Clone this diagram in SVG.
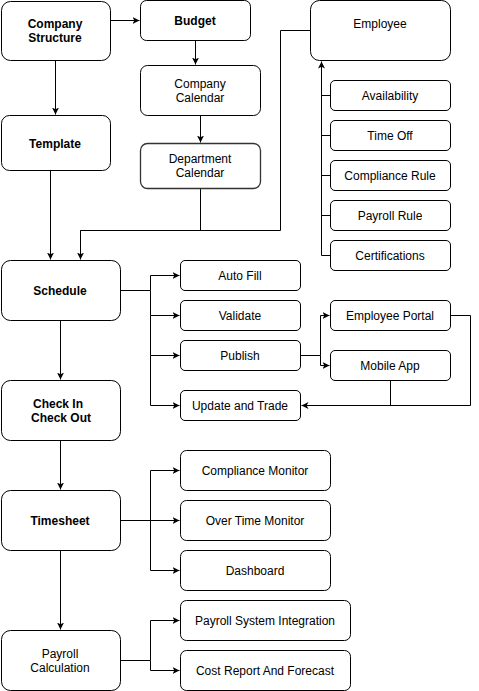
<svg xmlns="http://www.w3.org/2000/svg" width="479" height="691" viewBox="0 0 479 691">
<style>
.box{fill:#fff;stroke:#000;stroke-width:1}
.t{font-family:"Liberation Sans",Arial,sans-serif;font-size:12px;fill:#000;text-anchor:middle}
.b{font-weight:bold}
.c{fill:none;stroke:#000;stroke-width:1}
.a{marker-end:url(#arr)}
</style>
<defs>
<marker id="arr" markerWidth="8" markerHeight="8" refX="7" refY="4" orient="auto" markerUnits="userSpaceOnUse">
<path d="M0,0.5 L7,4 L0,7.5 L1.8,4 Z" fill="#000"/>
</marker>
</defs>
<rect width="479" height="691" fill="#fff"/>
<g id="connectors" transform="translate(0.5,0.5)">
<path class="c a" d="M110,20 H139"/>
<path class="c a" d="M55,60 V114"/>
<path class="c a" d="M195,40 V64"/>
<path class="c a" d="M200,115 V142"/>
<path class="c" d="M200,188 V230 H80"/>
<path class="c a" d="M310,30 H280 V230 H80 V259"/>
<path class="c a" d="M50,170 V259"/>
<path class="c a" d="M330,255 H321 V61"/>
<path class="c" d="M330,95 H321"/>
<path class="c" d="M330,135 H321"/>
<path class="c" d="M330,175 H321"/>
<path class="c" d="M330,215 H321"/>
<path class="c a" d="M120,290 H150 V275 H179"/>
<path class="c a" d="M150,290 V315 H179"/>
<path class="c a" d="M150,315 V355 H179"/>
<path class="c a" d="M150,355 V405 H179"/>
<path class="c a" d="M60,320 V379"/>
<path class="c a" d="M300,355 H320 V315 H329"/>
<path class="c a" d="M320,355 V365 H329"/>
<path class="c a" d="M450,315 H470 V405 H301"/>
<path class="c" d="M390,380 V405"/>
<path class="c a" d="M60,440 V489"/>
<path class="c a" d="M120,520 H150 V470 H179"/>
<path class="c a" d="M150,520 H179"/>
<path class="c a" d="M150,520 V570 H179"/>
<path class="c a" d="M60,550 V629"/>
<path class="c a" d="M120,660 H150 V620 H179"/>
<path class="c a" d="M150,660 V670 H179"/>
</g>
<g id="company-structure"><rect class="box" x="1.5" y="1.5" width="109" height="59" rx="9"/><text class="t b" x="55" y="28">Company</text><text class="t b" x="55" y="42">Structure</text></g>
<g id="budget"><rect class="box" x="140.5" y="0.5" width="110" height="40" rx="6"/><text class="t b" x="195" y="25">Budget</text></g>
<g id="company-calendar"><rect class="box" x="140.5" y="65.5" width="120" height="50" rx="7"/><text class="t" x="200" y="88">Company</text><text class="t" x="200" y="102">Calendar</text></g>
<g id="department-calendar"><rect class="box" x="140.5" y="143.5" width="120" height="45" rx="7" style="stroke:#333;stroke-width:1.3"/><text class="t" x="200" y="163">Department</text><text class="t" x="200" y="177">Calendar</text></g>
<g id="template"><rect class="box" x="1.5" y="115.5" width="109" height="55" rx="8"/><text class="t b" x="55" y="148">Template</text></g>
<g id="employee"><rect class="box" x="310.5" y="0.5" width="140" height="60" rx="9"/><text class="t" x="380" y="28">Employee</text></g>
<g id="availability"><rect class="box" x="330.5" y="80.5" width="120" height="30" rx="4.5"/><text class="t" x="390" y="100">Availability</text></g>
<g id="time-off"><rect class="box" x="330.5" y="120.5" width="120" height="30" rx="4.5"/><text class="t" x="390" y="140">Time Off</text></g>
<g id="compliance-rule"><rect class="box" x="330.5" y="160.5" width="120" height="30" rx="4.5"/><text class="t" x="390" y="180">Compliance Rule</text></g>
<g id="payroll-rule"><rect class="box" x="330.5" y="200.5" width="120" height="30" rx="4.5"/><text class="t" x="390" y="220">Payroll Rule</text></g>
<g id="certifications"><rect class="box" x="330.5" y="240.5" width="120" height="30" rx="4.5"/><text class="t" x="390" y="260">Certifications</text></g>
<g id="schedule"><rect class="box" x="1.5" y="260.5" width="119" height="60" rx="9"/><text class="t b" x="60" y="295">Schedule</text></g>
<g id="auto-fill"><rect class="box" x="180.5" y="260.5" width="120" height="30" rx="4.5"/><text class="t" x="240" y="280">Auto Fill</text></g>
<g id="validate"><rect class="box" x="180.5" y="300.5" width="120" height="30" rx="4.5"/><text class="t" x="240" y="320">Validate</text></g>
<g id="publish"><rect class="box" x="180.5" y="340.5" width="120" height="30" rx="4.5"/><text class="t" x="240" y="360">Publish</text></g>
<g id="update-and-trade"><rect class="box" x="180.5" y="390.5" width="120" height="30" rx="4.5"/><text class="t" x="240" y="410">Update and Trade</text></g>
<g id="employee-portal"><rect class="box" x="330.5" y="300.5" width="120" height="30" rx="4.5"/><text class="t" x="390" y="320">Employee Portal</text></g>
<g id="mobile-app"><rect class="box" x="330.5" y="350.5" width="120" height="30" rx="4.5"/><text class="t" x="390" y="370">Mobile App</text></g>
<g id="check-in-check-out"><rect class="box" x="1.5" y="380.5" width="119" height="60" rx="9"/><text class="t b" x="58" y="408">Check In</text><text class="t b" x="61" y="422">Check Out</text></g>
<g id="timesheet"><rect class="box" x="1.5" y="490.5" width="119" height="60" rx="9"/><text class="t b" x="60" y="525">Timesheet</text></g>
<g id="compliance-monitor"><rect class="box" x="180.5" y="450.5" width="150" height="40" rx="6"/><text class="t" x="255" y="475">Compliance Monitor</text></g>
<g id="over-time-monitor"><rect class="box" x="180.5" y="500.5" width="150" height="40" rx="6"/><text class="t" x="255" y="525">Over Time Monitor</text></g>
<g id="dashboard"><rect class="box" x="180.5" y="550.5" width="150" height="40" rx="6"/><text class="t" x="255" y="575">Dashboard</text></g>
<g id="payroll-calculation"><rect class="box" x="1.5" y="630.5" width="119" height="60" rx="9"/><text class="t" x="60" y="658">Payroll</text><text class="t" x="60" y="672">Calculation</text></g>
<g id="payroll-system-integration"><rect class="box" x="180.5" y="600.5" width="170" height="40" rx="6"/><text class="t" x="265" y="625">Payroll System Integration</text></g>
<g id="cost-report"><rect class="box" x="180.5" y="650.5" width="170" height="40" rx="6"/><text class="t" x="265" y="675">Cost Report And Forecast</text></g>
</svg>
